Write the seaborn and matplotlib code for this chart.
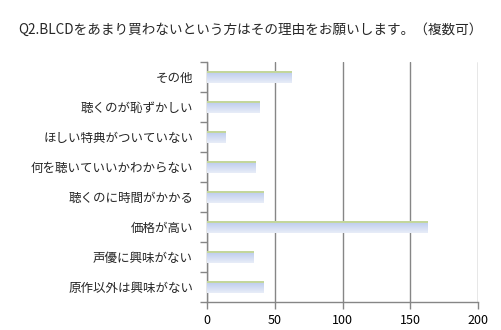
import matplotlib
matplotlib.use("Agg")
import matplotlib.pyplot as plt
import seaborn as sns
import numpy as np
import pandas as pd
from matplotlib.colors import LinearSegmentedColormap

categories = ["その他", "聴くのが恥ずかしい", "ほしい特典がついていない", "何を聴いていいかわからない",
              "聴くのに時間がかかる", "価格が高い", "声優に興味がない", "原作以外は興味がない"]
values = [62, 39, 14, 36, 42, 163, 34, 42]
xticks = [0, 50, 100, 150, 200]
title = "Q2.BLCDをあまり買わないという方はその理由をお願いします。（複数可）"

sns.set_style("white")
plt.rcParams['font.family'] = ['Noto Sans CJK JP', 'DejaVu Sans']

df = pd.DataFrame({"cat": categories, "val": values})
fig = plt.figure(figsize=(5.02, 3.30), dpi=100)
ax = fig.add_axes([207/502, 1-302/330, (478-207)/502, 240/330])

sns.barplot(data=df, y="cat", x="val", orient="h", ax=ax, width=0.4,
            color="#c6d3ee", linewidth=0, zorder=3)

cmap = LinearSegmentedColormap.from_list("g", [(0, "#c3d69b"), (0.16, "#c3d69b"),
                                               (0.2, "#c2d0ee"), (1.0, "#e8edf8")])
grad = np.linspace(0, 1, 64).reshape(-1, 1)
for p in ax.patches:
    x0, y0 = p.get_x(), p.get_y()
    w, h = p.get_width(), p.get_height()
    ax.imshow(grad, cmap=cmap, aspect="auto", extent=[x0, x0 + w, y0 + h, y0],
              zorder=3, interpolation="nearest")
    p.set_visible(False)

ax.set_xlim(0, 200)
ax.set_ylim(len(categories) - 0.5, -0.5)
ax.set_xticks(xticks)
ax.set_xticklabels([str(t) for t in xticks], fontsize=9, color="#000000")
ax.set_xlabel("")
ax.set_ylabel("")
ax.tick_params(axis="y", which="major", length=0, labelsize=9, pad=10)
ax.set_yticks(np.arange(-0.5, len(categories), 1.0), minor=True)
ax.tick_params(axis="y", which="minor", length=5, width=1, color="#868686", direction="out", left=True)
ax.tick_params(axis="x", which="major", length=5, width=1, color="#868686", direction="out", bottom=True, pad=4)

ax.grid(axis="x", color="#868686", linewidth=1, zorder=1)
ax.grid(axis="y", visible=False)
ax.set_axisbelow(True)
for s in ["top", "right"]:
    ax.spines[s].set_visible(False)
for s in ["left", "bottom"]:
    ax.spines[s].set_color("#868686")
    ax.spines[s].set_linewidth(1)

fig.text(18/502, 1-30/330, title, fontsize=9.8, ha="left", va="center")

fig.savefig("out.png", dpi=100)
